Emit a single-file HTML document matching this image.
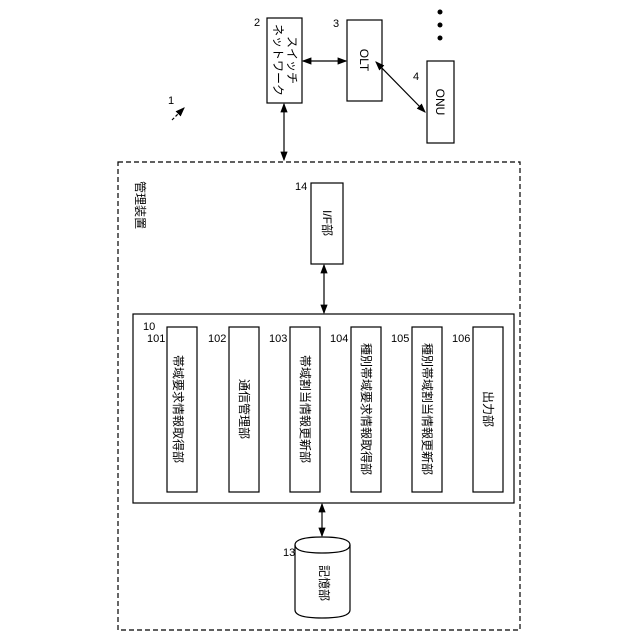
<!DOCTYPE html>
<html><head><meta charset="utf-8"><style>body{margin:0;background:#fff}svg{display:block}</style></head><body>
<svg width="640" height="640" xmlns="http://www.w3.org/2000/svg" font-family="'Liberation Sans','Noto Sans CJK JP',sans-serif" fill="none" stroke="#000" stroke-width="1.2">
<defs><marker id="a" markerWidth="8" markerHeight="8" refX="7" refY="4" orient="auto-start-reverse"><path d="M0,1 L8,4 L0,7z" fill="#000" stroke="none"/></marker></defs>
<rect x="118" y="162" width="402" height="468" stroke-dasharray="5,3"/>
<rect x="133" y="314" width="381" height="189"/>
<rect x="167" y="327" width="30" height="165"/>
<rect x="229" y="327" width="30" height="165"/>
<rect x="290" y="327" width="30" height="165"/>
<rect x="351" y="327" width="30" height="165"/>
<rect x="412" y="327" width="30" height="165"/>
<rect x="473" y="327" width="30" height="165"/>
<rect x="267" y="18" width="35" height="85"/>
<rect x="347" y="20" width="35" height="81"/>
<rect x="427" y="61" width="27" height="82"/>
<rect x="311" y="183" width="32" height="81"/>
<path d="M295,545 Q295,537 322,537 Q350,537 350,545 L350,610 Q350,618 322,618 Q295,618 295,610 Z"/>
<path d="M295,545 Q295,553 322,553 Q350,553 350,545"/>
<g marker-start="url(#a)" marker-end="url(#a)">
<line x1="303" y1="61" x2="346" y2="61"/>
<line x1="376" y1="62" x2="425" y2="112"/>
<line x1="284" y1="104" x2="284" y2="160"/>
<line x1="324" y1="265" x2="324" y2="313"/>
<line x1="322" y1="504" x2="322" y2="536"/>
</g>
<line x1="172" y1="120" x2="184" y2="108" marker-end="url(#a)" stroke-dasharray="3,2"/>
<g fill="#000" stroke="none">
<circle cx="440" cy="12" r="2.5"/><circle cx="440" cy="25" r="2.5"/><circle cx="440" cy="38" r="2.5"/>
</g>
<g fill="#000" stroke="none" font-size="12">
<text transform="translate(178,409) rotate(90)" text-anchor="middle" dominant-baseline="central">帯域要求情報取得部</text>
<text transform="translate(244,409) rotate(90)" text-anchor="middle" dominant-baseline="central">通信管理部</text>
<text transform="translate(305,409) rotate(90)" text-anchor="middle" dominant-baseline="central">帯域割当情報更新部</text>
<text transform="translate(366,409) rotate(90)" text-anchor="middle" dominant-baseline="central">種別帯域要求情報取得部</text>
<text transform="translate(427,409) rotate(90)" text-anchor="middle" dominant-baseline="central">種別帯域割当情報更新部</text>
<text transform="translate(488,409) rotate(90)" text-anchor="middle" dominant-baseline="central">出力部</text>
<text transform="translate(278,60) rotate(90)" text-anchor="middle" dominant-baseline="central">ネットワーク</text>
<text transform="translate(292,60) rotate(90)" text-anchor="middle" dominant-baseline="central">スイッチ</text>
<text transform="translate(364,60) rotate(90)" text-anchor="middle" dominant-baseline="central">OLT</text>
<text transform="translate(440,102) rotate(90)" text-anchor="middle" dominant-baseline="central">ONU</text>
<text transform="translate(327,223) rotate(90)" text-anchor="middle" dominant-baseline="central">I/F部</text>
<text transform="translate(324,583) rotate(90)" text-anchor="middle" dominant-baseline="central">記憶部</text>
<text transform="translate(140,205) rotate(90)" text-anchor="middle" dominant-baseline="central">管理装置</text>
<g font-size="11">
<text x="147" y="342">101</text><text x="208" y="342">102</text><text x="269" y="342">103</text>
<text x="330" y="342">104</text><text x="391" y="342">105</text><text x="452" y="342">106</text>
<text x="143" y="330">10</text><text x="254" y="26">2</text><text x="333" y="27">3</text>
<text x="413" y="80">4</text><text x="295" y="190">14</text><text x="283" y="556">13</text><text x="168" y="104">1</text>
</g>
</g>
</svg>
</body></html>
